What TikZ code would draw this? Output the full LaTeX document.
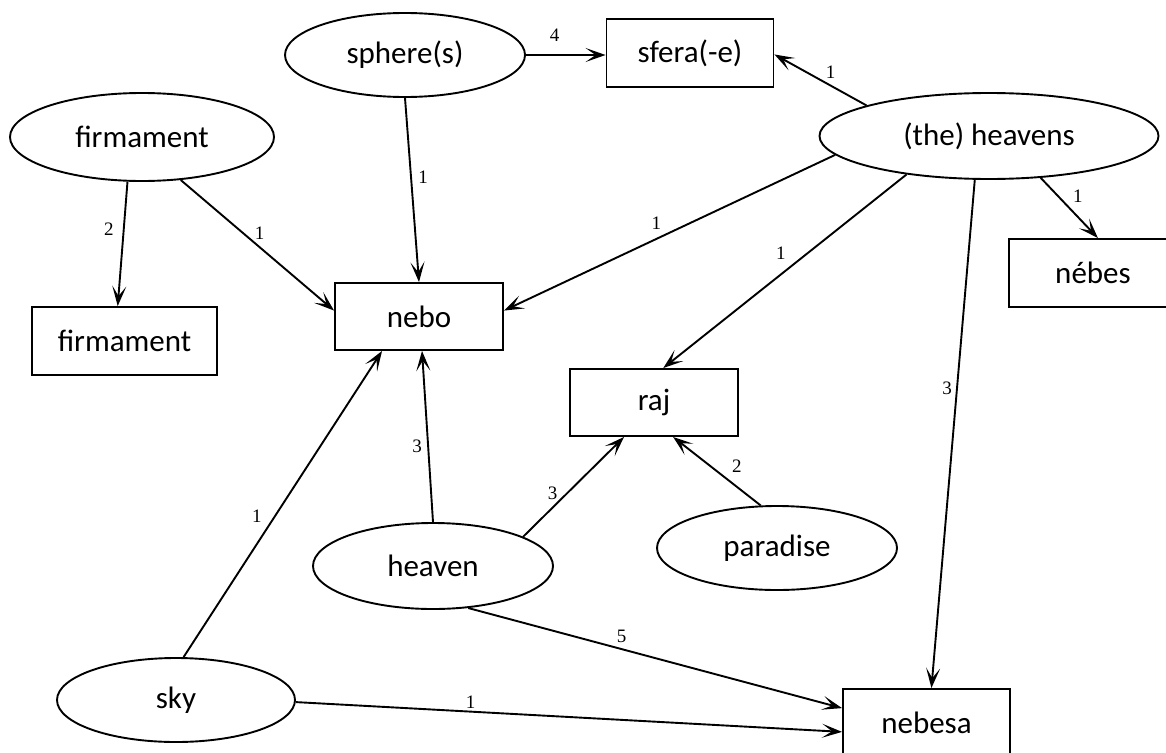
\documentclass[tikz,border=0pt]{standalone}
\usepackage{fontspec}
\setmainfont{Carlito}
\newfontfamily\lblfont{Liberation Serif}
\usetikzlibrary{shapes.geometric,arrows.meta,calc}
\begin{document}
\begin{tikzpicture}[x=1pt,y=-1pt,
  ell/.style={draw, ellipse, line width=1.9pt, inner sep=0pt, font=\fontsize{31}{36}\selectfont},
  box/.style={draw, rectangle, line width=1.9pt, inner sep=0pt, font=\fontsize{31}{36}\selectfont},
  arr/.style={line width=1.9pt, -{Stealth[length=20pt,width=14pt,inset=10pt]}},
  lbl/.style={font=\lblfont\fontsize{19}{21}\selectfont, inner sep=0pt}]
\useasboundingbox (0,0) rectangle (1166,752);
% nodes
\node[ell, minimum width=240pt, minimum height=84pt] (sphere) at (405,55) {sphere(s)};
\node[box, minimum width=167pt, minimum height=68pt] (sfera) at (690,53) {sfera(-e)};
\node[ell, minimum width=264pt, minimum height=88pt] (fe) at (142,137) {firmament};
\node[ell, minimum width=339pt, minimum height=86pt] (heavens) at (989,136) {(the) heavens};
\node[box, minimum width=168pt, minimum height=68pt] (nebes) at (1093,273) {nébes};
\node[box, minimum width=168pt, minimum height=67pt] (nebo) at (419,316.5) {nebo};
\node[box, minimum width=185pt, minimum height=68pt] (fb) at (124.5,341) {firmament};
\node[box, minimum width=168pt, minimum height=67pt] (raj) at (654,402.5) {raj};
\node[ell, minimum width=240pt, minimum height=86pt] (heaven) at (433,566) {heaven};
\node[ell, minimum width=240pt, minimum height=84pt] (paradise) at (777,548) {paradise};
\node[ell, minimum width=238pt, minimum height=84pt] (sky) at (176,700) {sky};
\node[box, minimum width=167pt, minimum height=68pt] (nebesa) at (926.5,723) {nebesa};
% edges
\draw[arr] (sphere.east) -- (sphere.east -| sfera.west) node[lbl,pos=0.36,yshift=20pt]{4};
\draw[arr] (sphere.south) -- (nebo.north) node[lbl,pos=0.43,xshift=12pt]{1};
\draw[arr] (fe.-108) -- (fb.101) node[lbl,pos=0.38,xshift=-15pt]{2};
\draw[arr] (fe.-48) -- (nebo.176) node[lbl,pos=0.41,xshift=16pt]{1};
\draw[arr] (heavens.166) -- (sfera.-1.5) node[lbl,pos=0.39,yshift=13pt]{1};
\draw[arr] (heavens.-173.4) -- (nebo.4.4) node[lbl,pos=0.54,yshift=16pt]{1};
\draw[arr] (heavens.-155) -- (raj.75) node[lbl,pos=0.406,xshift=-27pt]{1};
\draw[arr] (heavens.-108.4) -- (nebesa.82.5) node[lbl,pos=0.41,xshift=-10pt]{3};
\draw[arr] (heavens.-39.4) -- (nebes.82) node[lbl,pos=0.3,xshift=20pt]{1};
\draw[arr] (sky.80.5) -- (nebo.-137) node[lbl,pos=0.46,xshift=-18pt]{1};
\draw[arr] (heaven.north) -- (nebo.-85) node[lbl,pos=0.44,xshift=-11pt]{3};
\draw[arr] (heaven.18) -- (raj.-131) node[lbl,pos=0.44,xshift=-15pt]{3};
\draw[arr] (paradise.111.6) -- (raj.-61.8) node[lbl,pos=0.58,xshift=27pt]{2};
\draw[arr] (heaven.-50) -- (nebesa.170) node[lbl,pos=0.41,yshift=13pt]{5};
\draw[arr] (sky.-1.4) -- (nebesa.-174) node[lbl,pos=0.32,yshift=9pt]{1};
\end{tikzpicture}
\end{document}
